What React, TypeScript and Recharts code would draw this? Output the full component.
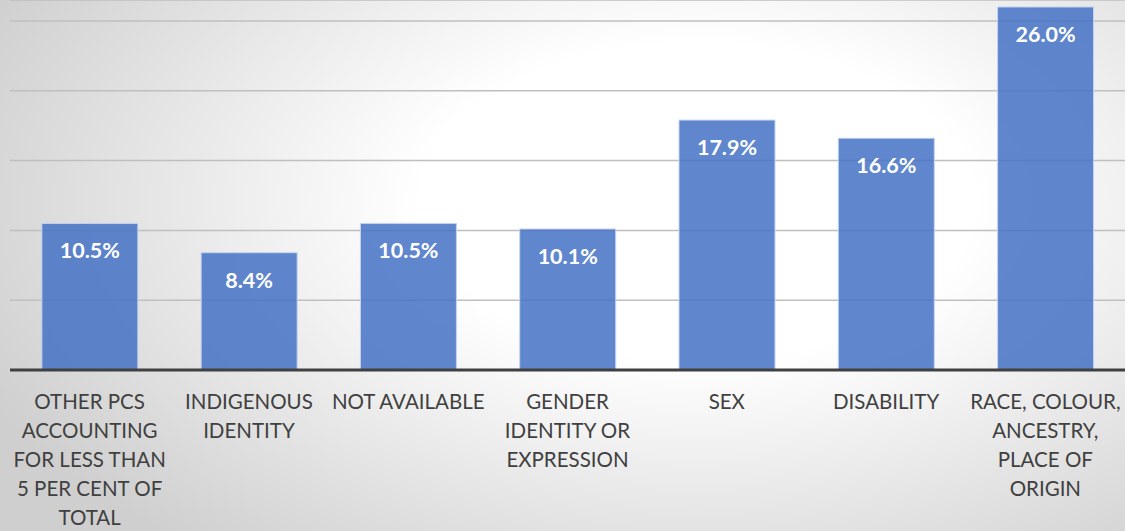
import React from 'react';
import { BarChart, Bar, XAxis, YAxis, CartesianGrid, LabelList } from 'recharts';

// categories carry their own line breaks, as in the original slide
const categories = [
    'OTHER PCS\nACCOUNTING\nFOR LESS THAN\n5 PER CENT OF\nTOTAL',
    'INDIGENOUS\nIDENTITY',
    'NOT AVAILABLE',
    'GENDER\nIDENTITY OR\nEXPRESSION',
    'SEX',
    'DISABILITY',
    'RACE, COLOUR,\nANCESTRY,\nPLACE OF\nORIGIN',
];
const shares = [10.5, 8.4, 10.5, 10.1, 17.9, 16.6, 26.0];
const gridTicks = [0, 5, 10, 15, 20, 25];

const data = categories.map((name, i) => ({ name, value: shares[i] }));

const FONT = 'Lato, "Open Sans", sans-serif';

const WrappedTick = ({ x, y, payload }: any) => {
    const lines = String(payload.value).split('\n');
    return (
        <text x={x} y={y} textAnchor="middle" fill="#404040" fontFamily={FONT} fontSize={20.5}>
            {lines.map((line, i) => (
                <tspan key={i} x={x} dy={i === 0 ? 31 : 29}>
                    {line}
                </tspan>
            ))}
        </text>
    );
};

const ValueLabel = ({ x, y, width, value }: any) => (
    <text
        x={x + width / 2}
        y={y + 35}
        textAnchor="middle"
        fill="#ffffff"
        fontFamily={FONT}
        fontWeight={700}
        fontSize={21.5}
    >
        {`${Number(value).toFixed(1)}%`}
    </text>
);

export default function App() {
    return (
        <div
            style={{
                position: 'absolute',
                left: 0,
                top: 0,
                width: 1125,
                height: 531,
                background: 'radial-gradient(ellipse 70% 85% at 62% 38%, #ffffff 0%, #ffffff 35%, #cfcfcf 100%)',
            }}
        >
            <BarChart
                width={1125}
                height={531}
                data={data}
                margin={{ top: 0, right: 0, left: 10, bottom: 0 }}
                barCategoryGap="20%"
            >
                <CartesianGrid vertical={false} stroke="#bfbfbf" strokeWidth={1.5} />
                <YAxis hide domain={[0, 26.5]} ticks={gridTicks} />
                <XAxis
                    dataKey="name"
                    interval={0}
                    height={161}
                    tickLine={false}
                    axisLine={{ stroke: '#404040', strokeWidth: 3 }}
                    tick={<WrappedTick />}
                />
                <Bar
                    dataKey="value"
                    fill="#4472C4"
                    fillOpacity={0.85}
                    stroke="#c5d3ee"
                    strokeWidth={1}
                    isAnimationActive={false}
                >
                    <LabelList dataKey="value" content={<ValueLabel />} />
                </Bar>
            </BarChart>
        </div>
    );
}
